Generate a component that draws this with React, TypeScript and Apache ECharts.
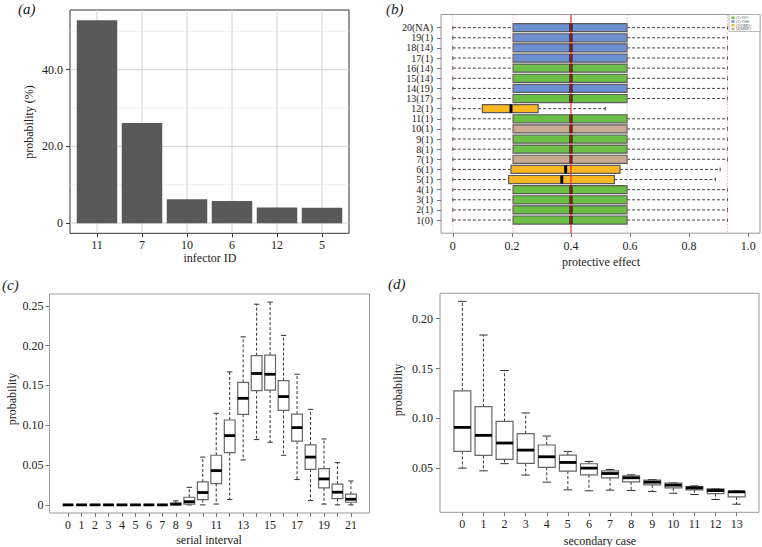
import React, { useEffect, useRef } from "react";
import * as echarts from "echarts";

const FONT = "Liberation Serif";
const TXT = "#222";

// ---------- (a) infector ID ----------
const infectorIds = ["11", "7", "10", "6", "12", "5"];
const infectorProb = [52.9, 26.1, 6.2, 5.8, 4.1, 4.0];
const aTicksY = [0, 20, 40];
const aMinorY = [10, 30, 50];

// ---------- (b) protective effect ----------
const rowLabels = ["1(0)", "2(1)", "3(1)", "4(1)", "5(1)", "6(1)", "7(1)", "8(1)", "9(1)", "10(1)",
  "11(1)", "12(1)", "13(17)", "14(19)", "15(14)", "16(14)", "17(1)", "18(14)", "19(1)", "20(NA)"];
const rowGroup = [0, 0, 0, 0, 2, 2, 3, 0, 0, 3, 0, 2, 0, 1, 0, 0, 1, 1, 1, 1];
const groupNames = ["(1)-OO-", "(2)-OM-", "(3)OMO-", "(4)MMO-"];
const groupColors = ["#6cbf45", "#6b8fd0", "#fcb823", "#c9aa92"];
const effMin = [0, 0, 0, 0, 0, 0, 0, 0, 0, 0, 0, 0, 0, 0, 0, 0, 0, 0, 0, 0];
const effQ1 = [0.204, 0.204, 0.204, 0.204, 0.189, 0.197, 0.204, 0.204, 0.204, 0.204,
  0.204, 0.1, 0.204, 0.204, 0.204, 0.204, 0.204, 0.204, 0.204, 0.204];
const effMed = [0.4, 0.4, 0.4, 0.4, 0.369, 0.382, 0.4, 0.4, 0.4, 0.4,
  0.4, 0.197, 0.4, 0.4, 0.4, 0.4, 0.4, 0.4, 0.4, 0.4];
const effQ3 = [0.59, 0.59, 0.59, 0.59, 0.547, 0.566, 0.59, 0.59, 0.59, 0.59,
  0.59, 0.289, 0.59, 0.59, 0.59, 0.59, 0.59, 0.59, 0.59, 0.59];
const effMax = [0.93, 0.93, 0.93, 0.93, 0.889, 0.905, 0.93, 0.93, 0.93, 0.93,
  0.93, 0.516, 0.93, 0.93, 0.93, 0.93, 0.93, 0.93, 0.93, 0.93];
const refSolid = [0.4];
const refDotted = [0, 0.204, 0.59, 0.93];
const bTicksX = [0, 0.2, 0.4, 0.6, 0.8, 1];

// ---------- (c) serial interval ----------
const serialInterval = [0, 1, 2, 3, 4, 5, 6, 7, 8, 9, 10, 11, 12, 13, 14, 15, 16, 17, 18, 19, 20, 21];
const siMin = [0, 0, 0, 0, 0, 0, 0, 0, 0, 0, 0, 0.001, 0.0067, 0.0564, 0.082, 0.0786, 0.0623, 0.0318, 0.0054, 0.001, 0, 0];
const siQ1 = [0, 0, 0, 0, 0, 0, 0, 0, 0, 0.001, 0.0067, 0.0268, 0.0656, 0.1137, 0.1434, 0.1442, 0.1187, 0.080, 0.0447, 0.0213, 0.0079, 0.0033];
const siMed = [0, 0, 0, 0, 0, 0, 0, 0, 0.001, 0.004, 0.0155, 0.043, 0.087, 0.1338, 0.165, 0.164, 0.136, 0.097, 0.060, 0.0326, 0.0159, 0.0071];
const siQ3 = [0, 0, 0, 0, 0, 0, 0, 0, 0.002, 0.0096, 0.0288, 0.0623, 0.1066, 0.1538, 0.1873, 0.188, 0.156, 0.114, 0.0753, 0.0456, 0.026, 0.0134];
const siMax = [0, 0, 0, 0, 0, 0, 0, 0, 0.005, 0.022, 0.060, 0.115, 0.167, 0.211, 0.252, 0.2546, 0.2128, 0.164, 0.120, 0.0828, 0.053, 0.030];
const cLabelX = [0, 1, 2, 3, 4, 5, 6, 7, 8, 9, 11, 13, 15, 17, 19, 21];
const cTicksY = [0, 0.05, 0.1, 0.15, 0.2, 0.25];

// ---------- (d) secondary case ----------
const secondaryCase = [0, 1, 2, 3, 4, 5, 6, 7, 8, 9, 10, 11, 12, 13];
const scMin = [0.050, 0.0473, 0.0545, 0.043, 0.0359, 0.0282, 0.0272, 0.0279, 0.0275, 0.0265, 0.0248, 0.0235, 0.0185, 0.0138];
const scQ1 = [0.0668, 0.0628, 0.0587, 0.0547, 0.0507, 0.047, 0.0433, 0.0403, 0.0362, 0.0332, 0.0302, 0.0282, 0.0245, 0.0211];
const scMed = [0.0909, 0.0829, 0.0752, 0.0681, 0.0614, 0.0557, 0.050, 0.0446, 0.0403, 0.0359, 0.0329, 0.0302, 0.0275, 0.0262];
const scQ3 = [0.1275, 0.1117, 0.097, 0.0846, 0.0732, 0.0631, 0.0544, 0.0473, 0.0423, 0.0379, 0.0349, 0.0315, 0.0292, 0.0268];
const scMax = [0.2174, 0.1836, 0.148, 0.1054, 0.0822, 0.0668, 0.0567, 0.0487, 0.0433, 0.0386, 0.0352, 0.0322, 0.0295, 0.0270];
const dTicksY = [0.05, 0.1, 0.15, 0.2];

function vBoxRender(boxHalf: number, capHalf: number) {
  return (params: any, api: any) => {
    const x = api.value(0);
    const mn = api.value(1), q1 = api.value(2), md = api.value(3), q3 = api.value(4), mx = api.value(5);
    const xc = api.coord([x, md])[0];
    const xl = api.coord([x - boxHalf, md])[0];
    const xr = api.coord([x + boxHalf, md])[0];
    const cl = api.coord([x - capHalf, md])[0];
    const cr = api.coord([x + capHalf, md])[0];
    const yMin = api.coord([x, mn])[1];
    const yQ1 = api.coord([x, q1])[1];
    const yMd = api.coord([x, md])[1];
    const yQ3 = api.coord([x, q3])[1];
    const yMax = api.coord([x, mx])[1];
    const dash = { stroke: "#333", lineWidth: 1, lineDash: [3, 2] };
    const solid = { stroke: "#333", lineWidth: 1 };
    const children: any[] = [];
    if (mx > q3) {
      children.push({ type: "line", shape: { x1: xc, y1: yQ3, x2: xc, y2: yMax }, style: dash });
      children.push({ type: "line", shape: { x1: cl, y1: yMax, x2: cr, y2: yMax }, style: solid });
    }
    if (q1 > mn) {
      children.push({ type: "line", shape: { x1: xc, y1: yQ1, x2: xc, y2: yMin }, style: dash });
      children.push({ type: "line", shape: { x1: cl, y1: yMin, x2: cr, y2: yMin }, style: solid });
    }
    children.push({ type: "rect", shape: { x: xl, y: yQ3, width: xr - xl, height: Math.max(yQ1 - yQ3, 0) },
      style: { fill: "#fff", stroke: "#666", lineWidth: 1.2 } });
    children.push({ type: "line", shape: { x1: xl, y1: yMd, x2: xr, y2: yMd }, style: { stroke: "#000", lineWidth: 2.8 } });
    return { type: "group", children };
  };
}

function hBoxRender(params: any, api: any) {
  const mn = api.value(0), row = api.value(1), q1 = api.value(2), md = api.value(3), q3 = api.value(4), mx = api.value(5);
  const grp = api.value(6);
  const yc = api.coord([mn, row])[1];
  const yT = api.coord([mn, row + 0.4])[1];
  const yB = api.coord([mn, row - 0.4])[1];
  const cT = api.coord([mn, row + 0.18])[1];
  const cB = api.coord([mn, row - 0.18])[1];
  const xMin = api.coord([mn, row])[0];
  const xQ1 = api.coord([q1, row])[0];
  const xMd = api.coord([md, row])[0];
  const xQ3 = api.coord([q3, row])[0];
  const xMax = api.coord([mx, row])[0];
  const dash = { stroke: "#444", lineWidth: 1, lineDash: [3, 2] };
  const solid = { stroke: "#444", lineWidth: 1 };
  return {
    type: "group",
    children: [
      { type: "line", shape: { x1: xMin, y1: yc, x2: xQ1, y2: yc }, style: dash },
      { type: "line", shape: { x1: xQ3, y1: yc, x2: xMax, y2: yc }, style: dash },
      { type: "line", shape: { x1: xMin, y1: cT, x2: xMin, y2: cB }, style: solid },
      { type: "line", shape: { x1: xMax, y1: cT, x2: xMax, y2: cB }, style: solid },
      { type: "rect", shape: { x: xQ1, y: yT, width: xQ3 - xQ1, height: yB - yT },
        style: { fill: groupColors[grp], stroke: "#5a5a5a", lineWidth: 1.2 } },
      { type: "line", shape: { x1: xMd, y1: yT, x2: xMd, y2: yB }, style: { stroke: "#000", lineWidth: 3 } },
    ],
  };
}

function vLineRender(color: string, width: number, dash: number[] | null) {
  return (params: any, api: any) => {
    const cs = params.coordSys;
    const x = api.coord([api.value(0), api.value(1)])[0];
    return {
      type: "line",
      shape: { x1: x, y1: cs.y, x2: x, y2: cs.y + cs.height },
      style: { stroke: color, lineWidth: width, lineDash: dash || undefined },
    };
  };
}

function hLineRender(color: string, width: number) {
  return (params: any, api: any) => {
    const cs = params.coordSys;
    const y = api.coord([api.value(0), api.value(1)])[1];
    return {
      type: "line",
      shape: { x1: cs.x, y1: y, x2: cs.x + cs.width, y2: y },
      style: { stroke: color, lineWidth: width },
    };
  };
}

function barRender(params: any, api: any) {
  const x = api.value(0), v = api.value(1);
  const p0 = api.coord([x - 0.45, 0]);
  const p1 = api.coord([x + 0.45, v]);
  return {
    type: "rect",
    shape: { x: p0[0], y: p1[1], width: p1[0] - p0[0], height: p0[1] - p1[1] },
    style: { fill: "#595959" },
  };
}

function axisCommon(gridIndex: number, min: number, max: number, ticks: number[], labels: number[],
  fmt: (v: number) => string, color: string, margin: number, fontSize = 12) {
  return {
    type: "value",
    gridIndex,
    min,
    max,
    axisLine: { show: false, onZero: false },
    splitLine: { show: false },
    axisTick: { show: true, customValues: ticks, length: 4, lineStyle: { color, width: 1 } },
    axisLabel: {
      show: true,
      customValues: labels,
      formatter: fmt,
      margin,
      fontSize,
      fontFamily: FONT,
      color: TXT,
      showMinLabel: true,
      showMaxLabel: true,
      hideOverlap: false,
    },
  };
}

function panelLabel(letter: string, x: number, y: number) {
  return {
    type: "text",
    x,
    y,
    style: {
      text: "(" + letter + ")",
      font: "italic 15px " + FONT,
      fill: TXT,
      textAlign: "left",
      align: "left",
      textVerticalAlign: "middle",
      verticalAlign: "middle",
    },
  };
}

function axisTitle(text: string, x: number, y: number, rotated: boolean) {
  return {
    type: "text",
    x,
    y,
    rotation: rotated ? Math.PI / 2 : 0,
    style: {
      text,
      font: "12px " + FONT,
      fill: TXT,
      textAlign: "center",
      align: "center",
      textVerticalAlign: "middle",
      verticalAlign: "middle",
    },
  };
}

function buildOption(): any {
  const legendChildren: any[] = [
    { type: "rect", shape: { x: 729, y: 14.5, width: 31, height: 17 }, style: { fill: "#fff", stroke: "#aaa", lineWidth: 0.8 } },
  ];
  groupNames.forEach((name, i) => {
    legendChildren.push({ type: "rect", shape: { x: 731.5, y: 16.5 + i * 3.7, width: 3, height: 2.6 }, style: { fill: groupColors[i] } });
    legendChildren.push({
      type: "text", x: 736, y: 17.8 + i * 3.7,
      style: { text: name, font: "4px " + FONT, fill: "#555", textVerticalAlign: "middle", verticalAlign: "middle" },
    });
  });

  return {
    animation: false,
    backgroundColor: "#fff",
    textStyle: { fontFamily: FONT },
    grid: [
      { left: 70, top: 10, width: 279, height: 223.3, show: true, borderColor: "#333", borderWidth: 1, backgroundColor: "transparent" },
      { left: 441, top: 14.5, width: 319, height: 218.7, show: true, borderColor: "#999", borderWidth: 1, backgroundColor: "transparent" },
      { left: 49.5, top: 294, width: 320, height: 219, show: true, borderColor: "#999", borderWidth: 1, backgroundColor: "transparent" },
      { left: 440, top: 293.3, width: 319, height: 219, show: true, borderColor: "#999", borderWidth: 1, backgroundColor: "transparent" },
    ],
    xAxis: [
      axisCommon(0, 0.4, 6.6, infectorIds.map((_, i) => i + 1), infectorIds.map((_, i) => i + 1),
        (v: number) => infectorIds[Math.round(v) - 1] ?? "", "#333", 6),
      axisCommon(1, -0.04, 1.04, bTicksX, bTicksX, (v: number) => (v === 0 ? "0" : v.toFixed(1)), "#777", 7),
      axisCommon(2, -1.38, 22.38, serialInterval, cLabelX, (v: number) => String(Math.round(v)), "#777", 6),
      axisCommon(3, -1.06, 14.06, secondaryCase, secondaryCase, (v: number) => String(Math.round(v)), "#777", 6),
    ],
    yAxis: [
      axisCommon(0, -2.645, 55.545, aTicksY, aTicksY, (v: number) => (v === 0 ? "0" : v.toFixed(1)), "#333", 7),
      axisCommon(1, -0.3, 21.3, rowLabels.map((_, i) => i + 1), rowLabels.map((_, i) => i + 1),
        (v: number) => rowLabels[Math.round(v) - 1] ?? "", "#777", 8, 10),
      axisCommon(2, -0.0102, 0.2648, cTicksY, cTicksY, (v: number) => (v === 0 ? "0" : v.toFixed(2)), "#777", 6),
      axisCommon(3, 0.00566, 0.2255, dTicksY, dTicksY, (v: number) => v.toFixed(2), "#777", 7),
    ],
    series: [
      // (a) grid lines
      { type: "custom", xAxisIndex: 0, yAxisIndex: 0, z: 1, silent: true,
        data: aMinorY.map((v) => [1, v]), renderItem: hLineRender("#e4e4e4", 0.6) },
      { type: "custom", xAxisIndex: 0, yAxisIndex: 0, z: 1, silent: true,
        data: aTicksY.map((v) => [1, v]), renderItem: hLineRender("#d2d2d2", 1) },
      { type: "custom", xAxisIndex: 0, yAxisIndex: 0, z: 1, silent: true,
        data: infectorIds.map((_, i) => [i + 1, 10]), renderItem: vLineRender("#d2d2d2", 1, null) },
      // (a) bars
      { type: "custom", xAxisIndex: 0, yAxisIndex: 0, z: 2, silent: true,
        data: infectorProb.map((v, i) => [i + 1, v]), renderItem: barRender },
      // (b) boxes
      { type: "custom", xAxisIndex: 1, yAxisIndex: 1, z: 2, silent: true,
        data: rowLabels.map((_, i) => [effMin[i], i + 1, effQ1[i], effMed[i], effQ3[i], effMax[i], rowGroup[i]]),
        renderItem: hBoxRender },
      // (b) reference lines
      { type: "custom", xAxisIndex: 1, yAxisIndex: 1, z: 3, silent: true,
        data: refDotted.map((v) => [v, 10]), renderItem: vLineRender("#ee8a8a", 1, [1, 2]) },
      { type: "custom", xAxisIndex: 1, yAxisIndex: 1, z: 3, silent: true,
        data: refSolid.map((v) => [v, 10]), renderItem: vLineRender("#ee2a2a", 1.2, null) },
      // (c) boxes
      { type: "custom", xAxisIndex: 2, yAxisIndex: 2, z: 2, silent: true,
        data: serialInterval.map((x, i) => [x, siMin[i], siQ1[i], siMed[i], siQ3[i], siMax[i]]),
        renderItem: vBoxRender(0.4, 0.2) },
      // (d) boxes
      { type: "custom", xAxisIndex: 3, yAxisIndex: 3, z: 2, silent: true,
        data: secondaryCase.map((x, i) => [x, scMin[i], scQ1[i], scMed[i], scQ3[i], scMax[i]]),
        renderItem: vBoxRender(0.4, 0.2) },
    ],
    graphic: [
      panelLabel("a", 18, 9),
      panelLabel("b", 386, 9),
      panelLabel("c", 2, 285),
      panelLabel("d", 388, 284),
      axisTitle("probability (%)", 29, 122, true),
      axisTitle("infector ID", 210, 258, false),
      axisTitle("protective effect", 601, 262, false),
      axisTitle("probability", 12, 399, true),
      axisTitle("serial interval", 209, 540, false),
      axisTitle("probability", 398, 390, true),
      axisTitle("secondary case", 600, 541, false),
      { type: "group", children: legendChildren },
    ],
  };
}

export default function App() {
  const ref = useRef<HTMLDivElement>(null);
  useEffect(() => {
    if (!ref.current) return;
    const chart = echarts.init(ref.current, undefined, { renderer: "svg" });
    chart.setOption(buildOption());
    return () => chart.dispose();
  }, []);
  return (
    <div
      ref={ref}
      style={{ position: "fixed", left: 0, top: 0, width: 762, height: 547, background: "#fff" }}
    />
  );
}
